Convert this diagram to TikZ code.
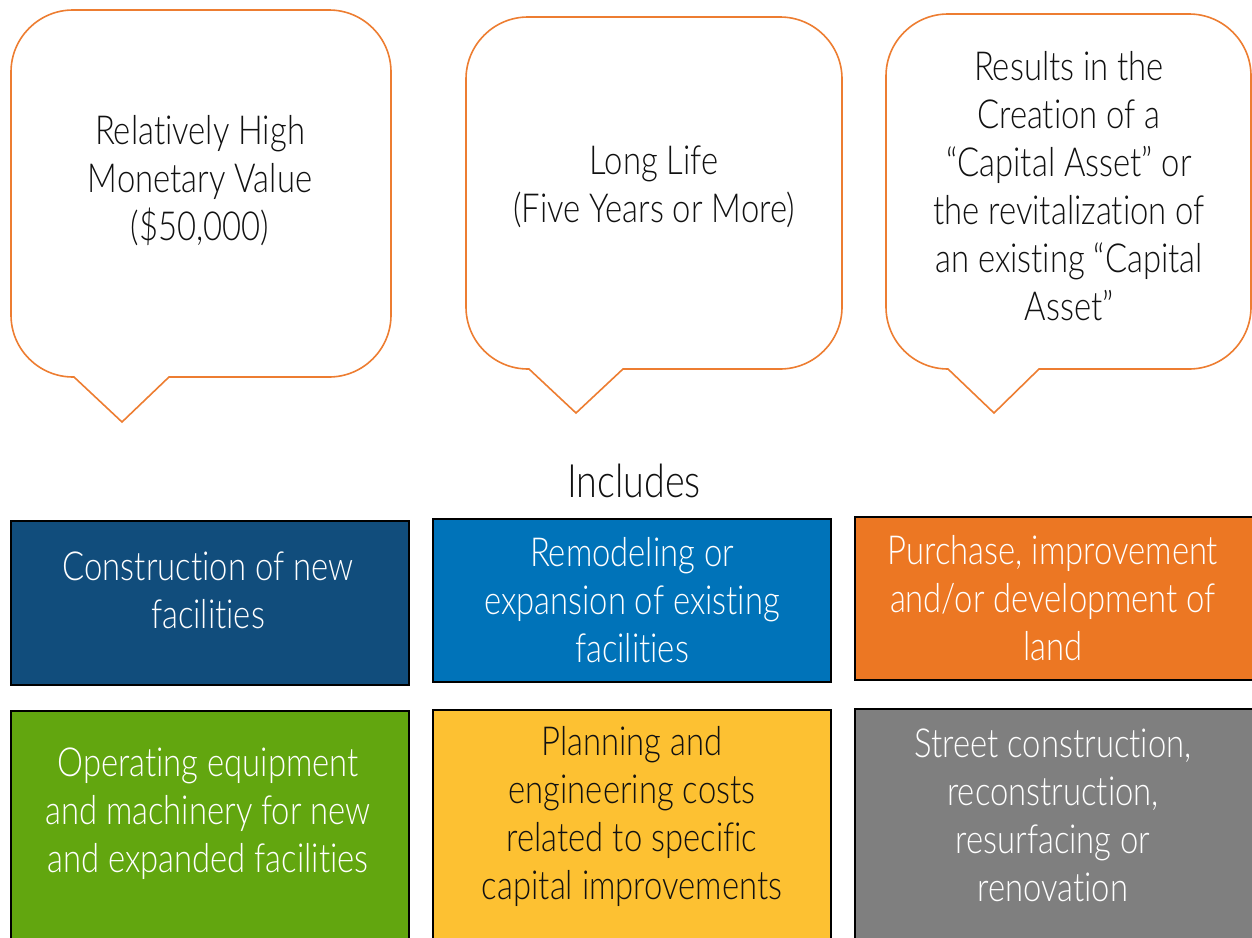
\documentclass[tikz,border=0pt]{standalone}
\usepackage{fontspec}
\setmainfont{Lato}[UprightFont=* Light, FakeStretch=0.82, Ligatures=NoCommon]
\definecolor{calloutorange}{HTML}{ED7D31}
\definecolor{darkblue}{HTML}{114D7C}
\definecolor{midblue}{HTML}{0073B9}
\definecolor{boxorange}{HTML}{EC7723}
\definecolor{boxgreen}{HTML}{62A60F}
\definecolor{boxyellow}{HTML}{FDC132}
\definecolor{boxgray}{HTML}{7F7F7F}
\definecolor{textblack}{HTML}{111111}
\begin{document}
\begin{tikzpicture}[x=1pt,y=-1pt,
  callout/.style={draw=calloutorange,line width=1.6pt,fill=white},
  ctext/.style={align=center,text=textblack,font=\fontsize{40}{48}\selectfont,inner sep=0pt},
  itembox/.style={draw=black,line width=2.2pt},
  btext/.style={align=center,font=\fontsize{40}{48}\selectfont,inner sep=0pt},
]
\useasboundingbox (0,0) rectangle (1252,937);
% callout 1
\def\r{62}
\draw[callout] (169,377) -- ({391-\r},377) arc[start angle=90,end angle=0,radius=\r]
  -- (391,{10+\r}) arc[start angle=0,end angle=-90,radius=\r]
  -- ({11+\r},10) arc[start angle=-90,end angle=-180,radius=\r]
  -- (11,{377-\r}) arc[start angle=180,end angle=90,radius=\r]
  -- (74,377) -- (122,422) -- cycle;
% callout 2
\draw[callout] (623,369) -- ({842-\r},369) arc[start angle=90,end angle=0,radius=\r]
  -- (842,{17+\r}) arc[start angle=0,end angle=-90,radius=\r]
  -- ({466+\r},17) arc[start angle=-90,end angle=-180,radius=\r]
  -- (466,{369-\r}) arc[start angle=180,end angle=90,radius=\r]
  -- (529,369) -- (576,413) -- cycle;
% callout 3
\draw[callout] (1039,369) -- ({1251-\r},369) arc[start angle=90,end angle=0,radius=\r]
  -- (1251,{14+\r}) arc[start angle=0,end angle=-90,radius=\r]
  -- ({886+\r},14) arc[start angle=-90,end angle=-180,radius=\r]
  -- (886,{369-\r}) arc[start angle=180,end angle=90,radius=\r]
  -- (948,369) -- (994,413) -- cycle;
\node[ctext] (c1) at (200,181) {Relatively High\\Monetary Value\\(\$50,000)};
\node[ctext] (c2) at (654,187) {Long Life\\(Five Years or More)};
\node[ctext] (c3) at (1069,186) {Results in the\\Creation of a\\“Capital Asset” or\\the revitalization of\\an existing “Capital\\Asset”};
\node[ctext,font=\fontsize{46}{52}\selectfont] (inc) at (634,481) {Includes};
% boxes row 1
\draw[itembox,fill=darkblue] (11,521) rectangle (409,685);
\draw[itembox,fill=midblue] (433,519) rectangle (831,682);
\draw[itembox,fill=boxorange] (855,517) rectangle (1253,680);
% boxes row 2
\draw[itembox,fill=boxgreen] (11,711) rectangle (409,945);
\draw[itembox,fill=boxyellow] (433,710) rectangle (831,945);
\draw[itembox,fill=boxgray] (855,709) rectangle (1253,945);
\node[btext,text=white] (b1) at (208,590) {Construction of new\\facilities};
\node[btext,text=white] (b2) at (632,600) {Remodeling or\\expansion of existing\\facilities};
\node[btext,text=white] (b3) at (1053,598) {Purchase, improvement\\and/or development of\\land};
\node[btext,text=white] (b4) at (208,814) {Operating equipment\\and machinery for new\\and expanded facilities};
\node[btext,text=textblack] (b5) at (632,816) {Planning and\\engineering costs\\related to specific\\capital improvements};
\node[btext,text=white] (b6) at (1053,815) {Street construction,\\reconstruction,\\resurfacing or\\renovation};
\end{tikzpicture}
\end{document}
